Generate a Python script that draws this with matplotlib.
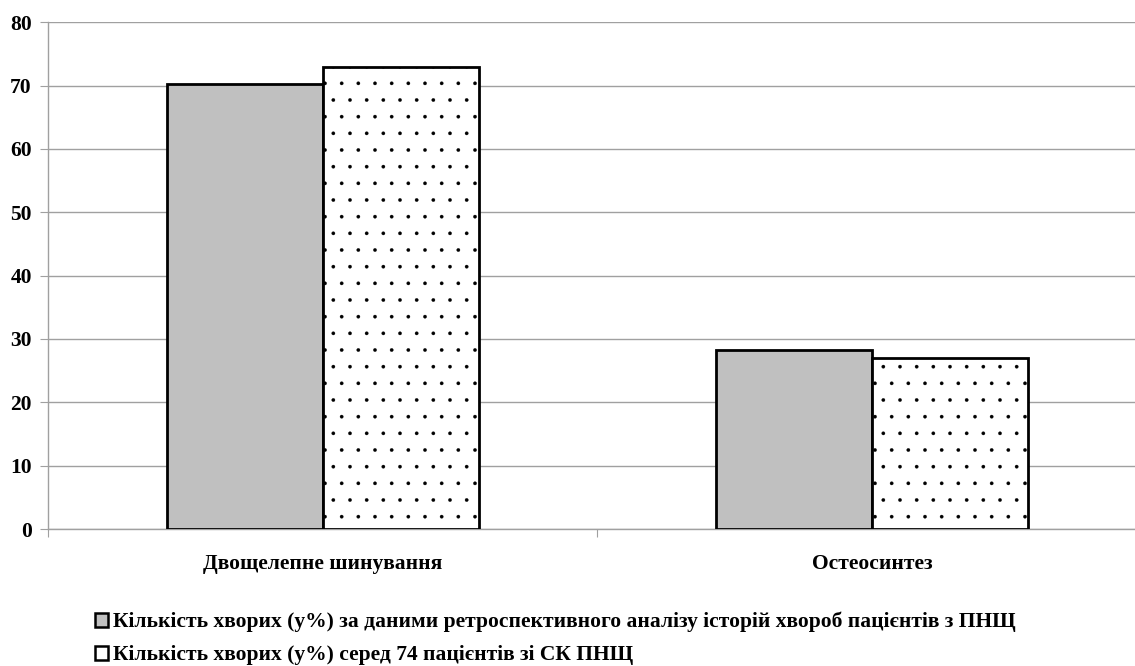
import matplotlib.pyplot as plt
import numpy as np
from matplotlib.patches import Patch

plt.rcParams["font.family"] = ["Liberation Serif", "DejaVu Serif"]
plt.rcParams["hatch.linewidth"] = 0.2
plt.rcParams["hatch.color"] = "#444444"

categories = ["Двощелепне шинування", "Остеосинтез"]
retro_values = [70.2, 28.2]
sk_values = [73.0, 27.0]
series_labels = [
    "Кількість хворих (у%) за даними ретроспективного аналізу історій хвороб пацієнтів з ПНЩ",
    "Кількість хворих (у%) серед 74 пацієнтів зі СК ПНЩ",
]
y_ticks = [0, 10, 20, 30, 40, 50, 60, 70, 80]

fig = plt.figure(figsize=(11.35, 6.66), dpi=100)
ax = fig.add_axes([0.0427, 0.2057, 0.9674, 0.761])

x = np.arange(len(categories))
width = 0.284
grid_c = "#a0a0a0"

ax.bar(x - width / 2, retro_values, width, color="#c0c0c0",
       edgecolor="black", linewidth=2, zorder=3)
ax.bar(x + width / 2, sk_values, width, color="white", hatch=".",
       edgecolor="black", linewidth=2, zorder=3)

ax.set_xlim(-0.5, 1.5)
ax.set_ylim(0, 80)
ax.set_yticks(y_ticks)
ax.set_yticklabels([str(t) for t in y_ticks], fontsize=15.5, fontweight="bold")
ax.set_xticks([-0.5, 0.5, 1.5])
ax.set_xticklabels([])
ax.set_xticks(x, minor=True)
ax.set_xticklabels(categories, minor=True, fontsize=15.5, fontweight="bold")
ax.tick_params(axis="x", which="minor", length=0, pad=18)
ax.tick_params(axis="x", which="major", length=6, color=grid_c, direction="out")
ax.tick_params(axis="y", length=6, color=grid_c, pad=6)

ax.grid(axis="y", color=grid_c, linewidth=1, zorder=0)
for name, sp in ax.spines.items():
    if name in ("top", "right"):
        sp.set_visible(False)
    else:
        sp.set_color(grid_c)
        sp.set_linewidth(1)

handles = [
    Patch(facecolor="#c0c0c0", edgecolor="black", linewidth=1.8),
    Patch(facecolor="white", edgecolor="black", linewidth=1.8),
]
fig.legend(handles, series_labels, loc="lower left",
           bbox_to_anchor=(0.076, -0.012), frameon=False,
           prop={"weight": "bold", "size": 15.5},
           handlelength=0.6, handleheight=0.6, handletextpad=0.25,
           labelspacing=0.6, borderaxespad=0.0)

fig.savefig("out.png", dpi=100)
